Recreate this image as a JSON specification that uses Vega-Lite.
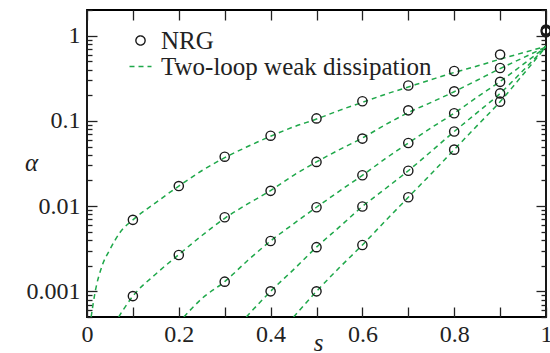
{
  "$schema": "https://vega.github.io/schema/vega-lite/v6.json",
  "width": 459,
  "height": 307,
  "autosize": {"type": "none"},
  "padding": {"left": 87, "top": 10, "right": 4, "bottom": 36},
  "background": "white",
  "config": {
    "font": "Liberation Serif",
    "view": {"stroke": "black", "strokeWidth": 1.8},
    "axis": {
      "labelFont": "Liberation Serif",
      "labelFontSize": 24,
      "labelColor": "#222",
      "titleFont": "Liberation Serif",
      "titleFontSize": 25,
      "titleFontWeight": "normal",
      "titleColor": "#222",
      "tickColor": "#222",
      "tickWidth": 1.3,
      "domain": false,
      "grid": false,
      "labelFlush": false,
      "labelOverlap": false
    },
    "legend": {"labelFont": "Liberation Serif"}
  },
  "datasets": {
    "nrg": [
      {"s": 0.1, "alpha": 0.0069, "series": 1},
      {"s": 0.2, "alpha": 0.0172, "series": 1},
      {"s": 0.3, "alpha": 0.038, "series": 1},
      {"s": 0.4, "alpha": 0.067, "series": 1},
      {"s": 0.5, "alpha": 0.107, "series": 1},
      {"s": 0.6, "alpha": 0.17, "series": 1},
      {"s": 0.7, "alpha": 0.26, "series": 1},
      {"s": 0.8, "alpha": 0.385, "series": 1},
      {"s": 0.9, "alpha": 0.6, "series": 1},
      {"s": 1.0, "alpha": 1.18, "series": 1},
      {"s": 0.1, "alpha": 0.00088, "series": 2},
      {"s": 0.2, "alpha": 0.00267, "series": 2},
      {"s": 0.3, "alpha": 0.0074, "series": 2},
      {"s": 0.4, "alpha": 0.0151, "series": 2},
      {"s": 0.5, "alpha": 0.033, "series": 2},
      {"s": 0.6, "alpha": 0.062, "series": 2},
      {"s": 0.7, "alpha": 0.133, "series": 2},
      {"s": 0.8, "alpha": 0.222, "series": 2},
      {"s": 0.9, "alpha": 0.417, "series": 2},
      {"s": 1.0, "alpha": 1.16, "series": 2},
      {"s": 0.3, "alpha": 0.0013, "series": 3},
      {"s": 0.4, "alpha": 0.0039, "series": 3},
      {"s": 0.5, "alpha": 0.0097, "series": 3},
      {"s": 0.6, "alpha": 0.023, "series": 3},
      {"s": 0.7, "alpha": 0.055, "series": 3},
      {"s": 0.8, "alpha": 0.123, "series": 3},
      {"s": 0.9, "alpha": 0.287, "series": 3},
      {"s": 1.0, "alpha": 1.14, "series": 3},
      {"s": 0.4, "alpha": 0.001, "series": 4},
      {"s": 0.5, "alpha": 0.0033, "series": 4},
      {"s": 0.6, "alpha": 0.0099, "series": 4},
      {"s": 0.7, "alpha": 0.026, "series": 4},
      {"s": 0.8, "alpha": 0.075, "series": 4},
      {"s": 0.9, "alpha": 0.21, "series": 4},
      {"s": 1.0, "alpha": 1.12, "series": 4},
      {"s": 0.5, "alpha": 0.001, "series": 5},
      {"s": 0.6, "alpha": 0.0035, "series": 5},
      {"s": 0.7, "alpha": 0.0127, "series": 5},
      {"s": 0.8, "alpha": 0.046, "series": 5},
      {"s": 0.9, "alpha": 0.168, "series": 5},
      {"s": 1.0, "alpha": 1.1, "series": 5}
    ],
    "curves": [
      {"s": 0.009, "alpha": 0.0005, "series": 1},
      {"s": 0.018, "alpha": 0.001, "series": 1},
      {"s": 0.033, "alpha": 0.002, "series": 1},
      {"s": 0.05, "alpha": 0.0031, "series": 1},
      {"s": 0.073, "alpha": 0.005, "series": 1},
      {"s": 0.1, "alpha": 0.0069, "series": 1},
      {"s": 0.15, "alpha": 0.011, "series": 1},
      {"s": 0.2, "alpha": 0.0172, "series": 1},
      {"s": 0.25, "alpha": 0.026, "series": 1},
      {"s": 0.3, "alpha": 0.037, "series": 1},
      {"s": 0.35, "alpha": 0.05, "series": 1},
      {"s": 0.4, "alpha": 0.066, "series": 1},
      {"s": 0.45, "alpha": 0.085, "series": 1},
      {"s": 0.5, "alpha": 0.105, "series": 1},
      {"s": 0.55, "alpha": 0.133, "series": 1},
      {"s": 0.6, "alpha": 0.165, "series": 1},
      {"s": 0.65, "alpha": 0.205, "series": 1},
      {"s": 0.7, "alpha": 0.25, "series": 1},
      {"s": 0.75, "alpha": 0.305, "series": 1},
      {"s": 0.8, "alpha": 0.37, "series": 1},
      {"s": 0.85, "alpha": 0.44, "series": 1},
      {"s": 0.9, "alpha": 0.53, "series": 1},
      {"s": 0.95, "alpha": 0.63, "series": 1},
      {"s": 1.0, "alpha": 0.75, "series": 1},
      {"s": 0.069, "alpha": 0.0005, "series": 2},
      {"s": 0.08, "alpha": 0.00062, "series": 2},
      {"s": 0.1, "alpha": 0.00088, "series": 2},
      {"s": 0.15, "alpha": 0.0016, "series": 2},
      {"s": 0.2, "alpha": 0.0027, "series": 2},
      {"s": 0.25, "alpha": 0.0045, "series": 2},
      {"s": 0.3, "alpha": 0.0072, "series": 2},
      {"s": 0.35, "alpha": 0.0106, "series": 2},
      {"s": 0.4, "alpha": 0.0152, "series": 2},
      {"s": 0.45, "alpha": 0.023, "series": 2},
      {"s": 0.5, "alpha": 0.033, "series": 2},
      {"s": 0.55, "alpha": 0.046, "series": 2},
      {"s": 0.6, "alpha": 0.063, "series": 2},
      {"s": 0.65, "alpha": 0.09, "series": 2},
      {"s": 0.7, "alpha": 0.125, "series": 2},
      {"s": 0.75, "alpha": 0.165, "series": 2},
      {"s": 0.8, "alpha": 0.22, "series": 2},
      {"s": 0.85, "alpha": 0.3, "series": 2},
      {"s": 0.9, "alpha": 0.41, "series": 2},
      {"s": 0.95, "alpha": 0.55, "series": 2},
      {"s": 1.0, "alpha": 0.74, "series": 2},
      {"s": 0.211, "alpha": 0.0005, "series": 3},
      {"s": 0.25, "alpha": 0.00082, "series": 3},
      {"s": 0.3, "alpha": 0.0013, "series": 3},
      {"s": 0.35, "alpha": 0.0023, "series": 3},
      {"s": 0.4, "alpha": 0.0039, "series": 3},
      {"s": 0.45, "alpha": 0.0062, "series": 3},
      {"s": 0.5, "alpha": 0.0097, "series": 3},
      {"s": 0.55, "alpha": 0.015, "series": 3},
      {"s": 0.6, "alpha": 0.023, "series": 3},
      {"s": 0.65, "alpha": 0.036, "series": 3},
      {"s": 0.7, "alpha": 0.055, "series": 3},
      {"s": 0.75, "alpha": 0.083, "series": 3},
      {"s": 0.8, "alpha": 0.123, "series": 3},
      {"s": 0.85, "alpha": 0.19, "series": 3},
      {"s": 0.9, "alpha": 0.29, "series": 3},
      {"s": 0.95, "alpha": 0.46, "series": 3},
      {"s": 1.0, "alpha": 0.74, "series": 3},
      {"s": 0.347, "alpha": 0.0005, "series": 4},
      {"s": 0.4, "alpha": 0.001, "series": 4},
      {"s": 0.45, "alpha": 0.0018, "series": 4},
      {"s": 0.5, "alpha": 0.0033, "series": 4},
      {"s": 0.55, "alpha": 0.0057, "series": 4},
      {"s": 0.6, "alpha": 0.0099, "series": 4},
      {"s": 0.65, "alpha": 0.016, "series": 4},
      {"s": 0.7, "alpha": 0.026, "series": 4},
      {"s": 0.75, "alpha": 0.044, "series": 4},
      {"s": 0.8, "alpha": 0.075, "series": 4},
      {"s": 0.85, "alpha": 0.125, "series": 4},
      {"s": 0.9, "alpha": 0.21, "series": 4},
      {"s": 0.95, "alpha": 0.39, "series": 4},
      {"s": 1.0, "alpha": 0.74, "series": 4},
      {"s": 0.45, "alpha": 0.0005, "series": 5},
      {"s": 0.5, "alpha": 0.001, "series": 5},
      {"s": 0.55, "alpha": 0.0019, "series": 5},
      {"s": 0.6, "alpha": 0.0035, "series": 5},
      {"s": 0.65, "alpha": 0.0067, "series": 5},
      {"s": 0.7, "alpha": 0.0127, "series": 5},
      {"s": 0.75, "alpha": 0.024, "series": 5},
      {"s": 0.8, "alpha": 0.046, "series": 5},
      {"s": 0.85, "alpha": 0.088, "series": 5},
      {"s": 0.9, "alpha": 0.168, "series": 5},
      {"s": 0.95, "alpha": 0.35, "series": 5},
      {"s": 1.0, "alpha": 0.74, "series": 5}
    ]
  },
  "resolve": {"axis": {"x": "independent", "y": "independent"}},
  "layer": [
    {
      "data": {"name": "curves"},
      "mark": {"type": "line", "strokeDash": [5, 4], "strokeWidth": 1.5, "interpolate": "monotone", "clip": true},
      "encoding": {
        "x": {
          "field": "s", "type": "quantitative",
          "scale": {"domain": [0, 1], "nice": false, "zero": false},
          "axis": {
            "orient": "bottom",
            "values": [0, 0.1, 0.2, 0.3, 0.4, 0.5, 0.6, 0.7, 0.8, 0.9, 1],
            "format": "~g",
            "labelExpr": "indexof([0, 0.2, 0.4, 0.6, 0.8, 1], datum.value) >= 0 ? datum.label : ''",
            "tickSize": -10,
            "labelPadding": 15,
            "title": "s",
            "titleFontStyle": "italic",
            "titleX": 231,
            "titleY": 33,
            "titleBaseline": "alphabetic",
            "titleAlign": "center"
          }
        },
        "y": {
          "field": "alpha", "type": "quantitative",
          "scale": {"type": "log", "domain": [0.0005, 2], "nice": false},
          "axis": {
            "orient": "left",
            "values": [0.0005, 0.0006, 0.0007, 0.0008, 0.0009, 0.001, 0.002, 0.003, 0.004, 0.005, 0.006, 0.007, 0.008, 0.009, 0.01, 0.02, 0.03, 0.04, 0.05, 0.06, 0.07, 0.08, 0.09, 0.1, 0.2, 0.3, 0.4, 0.5, 0.6, 0.7, 0.8, 0.9, 1, 2],
            "format": "~g",
            "labelExpr": "indexof([0.001, 0.01, 0.1, 1], datum.value) >= 0 ? datum.label : ''",
            "tickSize": {"condition": {"test": "indexof([0.001, 0.01, 0.1, 1], datum.value) >= 0", "value": -10}, "value": -5},
            "labelPadding": 17,
            "title": "α",
            "titleAngle": 0,
            "titleFontStyle": "italic",
            "titleX": -56,
            "titleY": 160,
            "titleAlign": "center",
            "titleBaseline": "alphabetic"
          }
        },
        "detail": {"field": "series"},
        "stroke": {
          "datum": "Two-loop weak dissipation",
          "scale": {"domain": ["NRG", "Two-loop weak dissipation"], "range": ["#1a1a1a", "#1fa84a"]},
          "legend": {
            "title": null,
            "orient": "none",
            "legendX": 41,
            "legendY": 18,
            "labelFontSize": 25,
            "labelColor": "#222",
            "labelOffset": 8,
            "rowPadding": -2,
            "symbolSize": 484,
            "symbolStrokeWidth": 1.4,
            "labelLimit": 400,
            "encode": {
              "symbols": {
                "update": {
                  "shape": {"signal": "datum.value === 'NRG' ? 'circle' : 'stroke'"},
                  "size": {"signal": "datum.value === 'NRG' ? 85 : 484"},
                  "strokeDash": {"signal": "datum.value === 'NRG' ? [1, 0] : [5, 4]"},
                  "fill": {"value": "transparent"},
                  "strokeWidth": {"value": 1.4}
                }
              }
            }
          }
        }
      }
    },
    {
      "data": {"name": "nrg"},
      "mark": {"type": "point", "shape": "circle", "filled": false, "size": 85, "strokeWidth": 1.4, "opacity": 1},
      "encoding": {
        "x": {
          "field": "s", "type": "quantitative",
          "axis": {
            "orient": "top",
            "values": [0, 0.1, 0.2, 0.3, 0.4, 0.5, 0.6, 0.7, 0.8, 0.9, 1],
            "labels": false,
            "tickSize": -10,
            "title": null
          }
        },
        "y": {
          "field": "alpha", "type": "quantitative",
          "axis": {
            "orient": "right",
            "values": [0.0005, 0.0006, 0.0007, 0.0008, 0.0009, 0.001, 0.002, 0.003, 0.004, 0.005, 0.006, 0.007, 0.008, 0.009, 0.01, 0.02, 0.03, 0.04, 0.05, 0.06, 0.07, 0.08, 0.09, 0.1, 0.2, 0.3, 0.4, 0.5, 0.6, 0.7, 0.8, 0.9, 1, 2],
            "labels": false,
            "tickSize": {"condition": {"test": "indexof([0.001, 0.01, 0.1, 1], datum.value) >= 0", "value": -10}, "value": -5},
            "title": null
          }
        },
        "stroke": {"datum": "NRG"}
      }
    }
  ]
}
